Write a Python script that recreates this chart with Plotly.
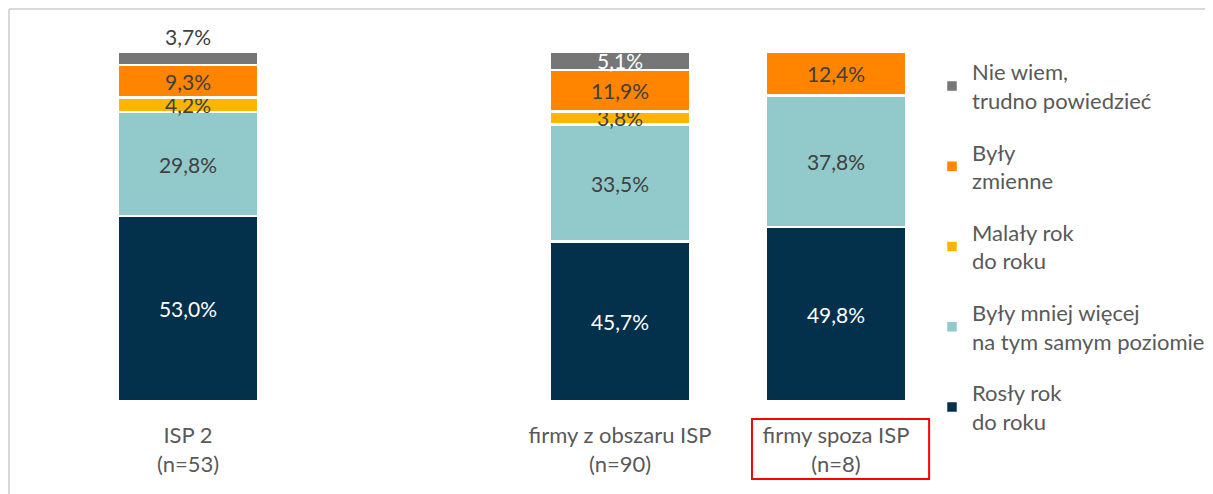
import plotly.graph_objects as go

categories = ["ISP 2<br>(n=53)", " ", "firmy z obszaru ISP<br>(n=90)", "firmy spoza ISP<br>(n=8)"]

series_names = [
    "Rosły rok<br>do roku",
    "Były mniej więcej<br>na tym samym poziomie",
    "Malały rok<br>do roku",
    "Były<br>zmienne",
    "Nie wiem,<br>trudno powiedzieć",
]
rosly = [53.0, None, 45.7, 49.8]
bez_zmian = [29.8, None, 33.5, 37.8]
malaly = [4.2, None, 3.8, None]
zmienne = [9.3, None, 11.9, 12.4]
nie_wiem = [3.7, None, 5.1, None]

series_values = [rosly, bez_zmian, malaly, zmienne, nie_wiem]
colors = ["#03304A", "#92C9CB", "#FFB400", "#FF8400", "#767676"]
inside_text_colors = ["#FFFFFF", "#404040", "#404040", "#404040", "#FFFFFF"]
gray_positions = ["outside", "inside", "inside", "inside"]

FONT = "Lato"
FS = 22
VFS = 21


def fmt(v):
    if v is None:
        return ""
    return f"{v:.1f}".replace(".", ",") + "%"


fig = go.Figure()
for i, (name, vals, col) in enumerate(zip(series_names, series_values, colors)):
    tp = gray_positions if i == 4 else "inside"
    fig.add_trace(go.Bar(
        x=categories,
        y=vals,
        name=name,
        legendgroup=f"g{i}",
        legendrank=1000 - i,
        marker=dict(color=col, line=dict(color="#FFFFFF", width=2.5)),
        text=[fmt(v) for v in vals],
        textposition=tp,
        textangle=0,
        constraintext="none",
        insidetextanchor="middle",
        insidetextfont=dict(family=FONT, size=VFS, color=inside_text_colors[i]),
        outsidetextfont=dict(family=FONT, size=VFS, color="#404040"),
        cliponaxis=False,
        hoverinfo="skip",
    ))

# The page is offset by the 8px body margin: figure pixel = page pixel - 8.
# Plot area in page pixels: x 80..944, y 52..401
OFF = 8
W, H = 1213 - OFF, 494 - OFF
L, T = 80 - OFF, 52 - OFF
R, B = W - (944 - OFF), H - (401 - OFF)
PW, PH = 944 - 80, 401 - 52


def px_x(p):
    return (p - 80) / PW


def px_y(p):
    return (401 - p) / PH


fig.update_layout(
    width=W,
    height=H,
    barmode="stack",
    bargap=0.347,
    margin=dict(l=L, r=R, t=T, b=B, pad=0, autoexpand=False),
    paper_bgcolor="white",
    plot_bgcolor="white",
    font=dict(family=FONT, size=FS, color="#595959"),
    showlegend=True,
    legend=dict(
        x=px_x(932), xanchor="left",
        y=px_y(51), yanchor="top",
        traceorder="grouped",
        tracegroupgap=20,
        maxheight=480,
        font=dict(family=FONT, size=FS, color="#595959"),
        bgcolor="rgba(0,0,0,0)",
        itemclick=False,
    ),
    xaxis=dict(
        type="category",
        categoryorder="array",
        categoryarray=categories,
        range=[-0.5, 3.5],
        showgrid=False,
        showline=False,
        zeroline=False,
        ticks="",
        automargin=False,
        ticklabelstandoff=19,
        tickfont=dict(family=FONT, size=FS, color="#595959"),
        fixedrange=True,
    ),
    yaxis=dict(
        range=[0, 100],
        visible=False,
        fixedrange=True,
    ),
    shapes=[
        # outer frame (top and left)
        dict(type="line", xref="paper", yref="paper",
             x0=px_x(9), x1=px_x(1213), y0=px_y(9), y1=px_y(9),
             line=dict(color="#D9D9D9", width=2)),
        dict(type="line", xref="paper", yref="paper",
             x0=px_x(9), x1=px_x(9), y0=px_y(9), y1=px_y(494),
             line=dict(color="#D9D9D9", width=2)),
        # red highlight around last category label
        dict(type="rect", xref="x", yref="paper",
             x0=3 - 0.389, x1=3 + 0.431, y0=px_y(479), y1=px_y(419),
             line=dict(color="#FF0000", width=2), fillcolor="rgba(0,0,0,0)"),
    ],
)

fig.write_html("out.html")
